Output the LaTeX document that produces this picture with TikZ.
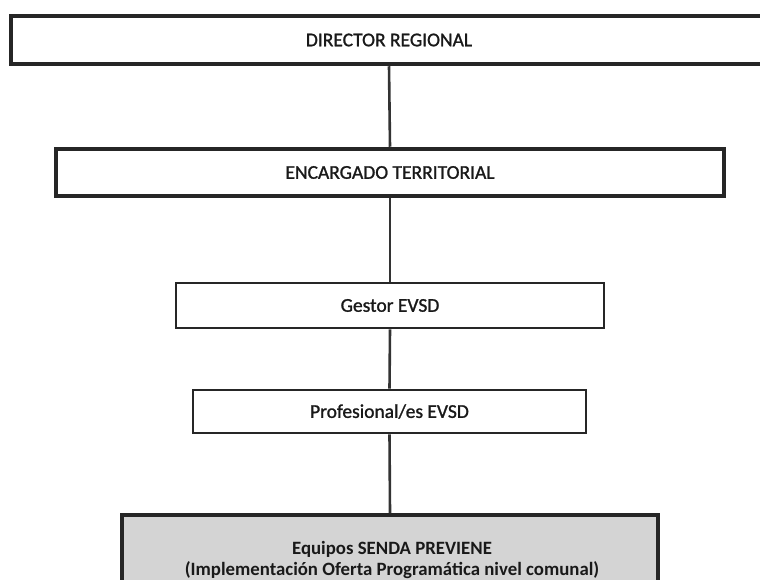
\documentclass[tikz,border=0pt]{standalone}
\usepackage{fontspec}
\setmainfont{Carlito}
\newfontfamily\scanfont[FakeBold=1.2]{Carlito}
\begin{document}
\begin{tikzpicture}[x=1pt,y=-1pt,
  txt/.style={font=\scanfont\fontsize{19.5}{21}\selectfont, text=black!90},
  thickbox/.style={txt, draw=black!85, line width=4.5pt, inner sep=0pt},
  thinbox/.style={txt, draw=black!85, line width=2.6pt, inner sep=0pt},
  graybox/.style={draw=black!85, fill=black!17, line width=4pt, inner sep=0pt},
  link/.style={draw=black!80, line width=2.6pt}]
\useasboundingbox (0,0) rectangle (760,580);
\node[thickbox, minimum width=756pt, minimum height=48pt] (dir) at (389,40) {DIRECTOR REGIONAL};
\node[thickbox, minimum width=668pt, minimum height=47pt] (enc) at (390,172.5) {ENCARGADO TERRITORIAL};
\node[thinbox, minimum width=428pt, minimum height=45pt] (ges) at (390,305.5) {Gestor EVSD};
\node[thinbox, minimum width=393pt, minimum height=43pt] (pro) at (389.5,411.5) {Profesional/es EVSD};
\node[graybox, minimum width=536pt, minimum height=90pt] (eq) at (390,560) {};
\node[align=center, inner sep=0pt, text=black!90, font=\fontsize{18.8}{21}\selectfont\bfseries] (eqt) at (392,559.5) {Equipos SENDA PREVIENE\\(Implementación Oferta Programática nivel comunal)};
\draw[link] (dir.south) -- (enc.north);
\draw[link] (enc.south) -- (ges.north);
\draw[link] (ges.south) -- (pro.north);
\draw[link] (pro.south) -- (eq.north);
\end{tikzpicture}
\end{document}
